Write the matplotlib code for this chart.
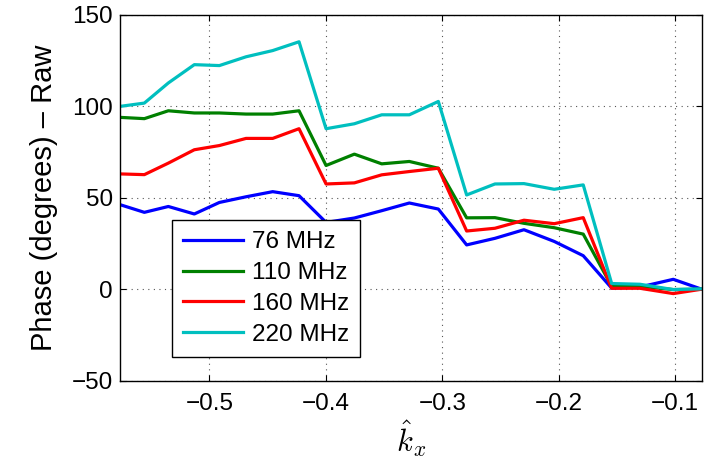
import numpy as np
import matplotlib
matplotlib.use('Agg')
import matplotlib.pyplot as plt

plt.rcParams['font.family'] = ['Liberation Sans', 'DejaVu Sans']
plt.rcParams['mathtext.fontset'] = 'cm'

kx = [-0.5767, -0.5558, -0.5352, -0.5129, -0.4914, -0.4685, -0.4456, -0.4230,
      -0.3998, -0.3755, -0.3520, -0.3283, -0.3034, -0.2791, -0.2548, -0.2299,
      -0.2039, -0.1790, -0.1546, -0.1303, -0.1017, -0.0773]

phase_76 = [46.2, 42.0, 45.2, 41.1, 47.4, 50.5, 53.3, 51.1, 36.5, 38.9, 42.9, 47.1,
            43.8, 24.2, 27.8, 32.5, 26.1, 18.3, 0.6, 1.2, 5.4, 0.0]
phase_110 = [93.9, 93.2, 97.5, 96.3, 96.3, 95.7, 95.7, 97.5, 67.6, 73.8, 68.5, 69.8,
             66.1, 39.0, 39.1, 36.0, 33.6, 30.1, 1.6, 1.6, -0.2, 0.0]
phase_160 = [63.0, 62.6, 68.9, 76.2, 78.5, 82.4, 82.4, 87.7, 57.5, 58.1, 62.5, 64.3,
             66.1, 31.8, 33.3, 37.7, 35.8, 39.1, 0.5, 0.5, -2.4, 0.0]
phase_220 = [99.9, 101.7, 112.7, 122.7, 122.2, 127.0, 130.4, 135.2, 87.7, 90.4, 95.3, 95.3,
             102.6, 51.5, 57.5, 57.7, 54.6, 57.0, 3.1, 2.7, -0.2, 0.2]

labels = ['76 MHz', '110 MHz', '160 MHz', '220 MHz']
colors = ['#0000ff', '#008000', '#ff0000', '#00bfbf']

fig = plt.figure(figsize=(7.11, 4.71), dpi=100)
ax = fig.add_axes([120 / 711, 1 - 380.7 / 471, 581.7 / 711, 366 / 471])

for y, lab, c in zip([phase_76, phase_110, phase_160, phase_220], labels, colors):
    ax.plot(kx, y, color=c, lw=2.3, label=lab)

ax.set_xlim(-0.5767, -0.0773)
ax.set_ylim(-50, 150)
ax.set_xticks([-0.5, -0.4, -0.3, -0.2, -0.1])
ax.set_xticklabels(['\u22120.5', '\u22120.4', '\u22120.3', '\u22120.2', '\u22120.1'])
ax.set_yticks([-50, 0, 50, 100, 150])
ax.set_yticklabels(['\u221250', '0', '50', '100', '150'])
ax.tick_params(direction='in', top=True, right=True, labelsize=17.5, length=4, width=0.8)
ax.tick_params(axis='x', pad=9)
ax.tick_params(axis='y', pad=5)
ax.grid(True, linestyle=(0, (1, 4)), color='#555555', lw=0.8)
for s in ax.spines.values():
    s.set_linewidth(1.0)

ax.set_xlabel(r'$\hat{k}_x$', fontsize=22, labelpad=2)
ax.set_ylabel('Phase (degrees) \u2013 Raw', fontsize=21, labelpad=10)

leg = ax.legend(loc='lower left', bbox_to_anchor=(0.089, 0.066), fontsize=17.5,
                frameon=True, fancybox=False, edgecolor='black', framealpha=1,
                handlelength=2.5, handletextpad=0.35, borderpad=0.45,
                labelspacing=0.36, borderaxespad=0)
leg.get_frame().set_linewidth(1.0)

fig.savefig('out.png', dpi=100)
